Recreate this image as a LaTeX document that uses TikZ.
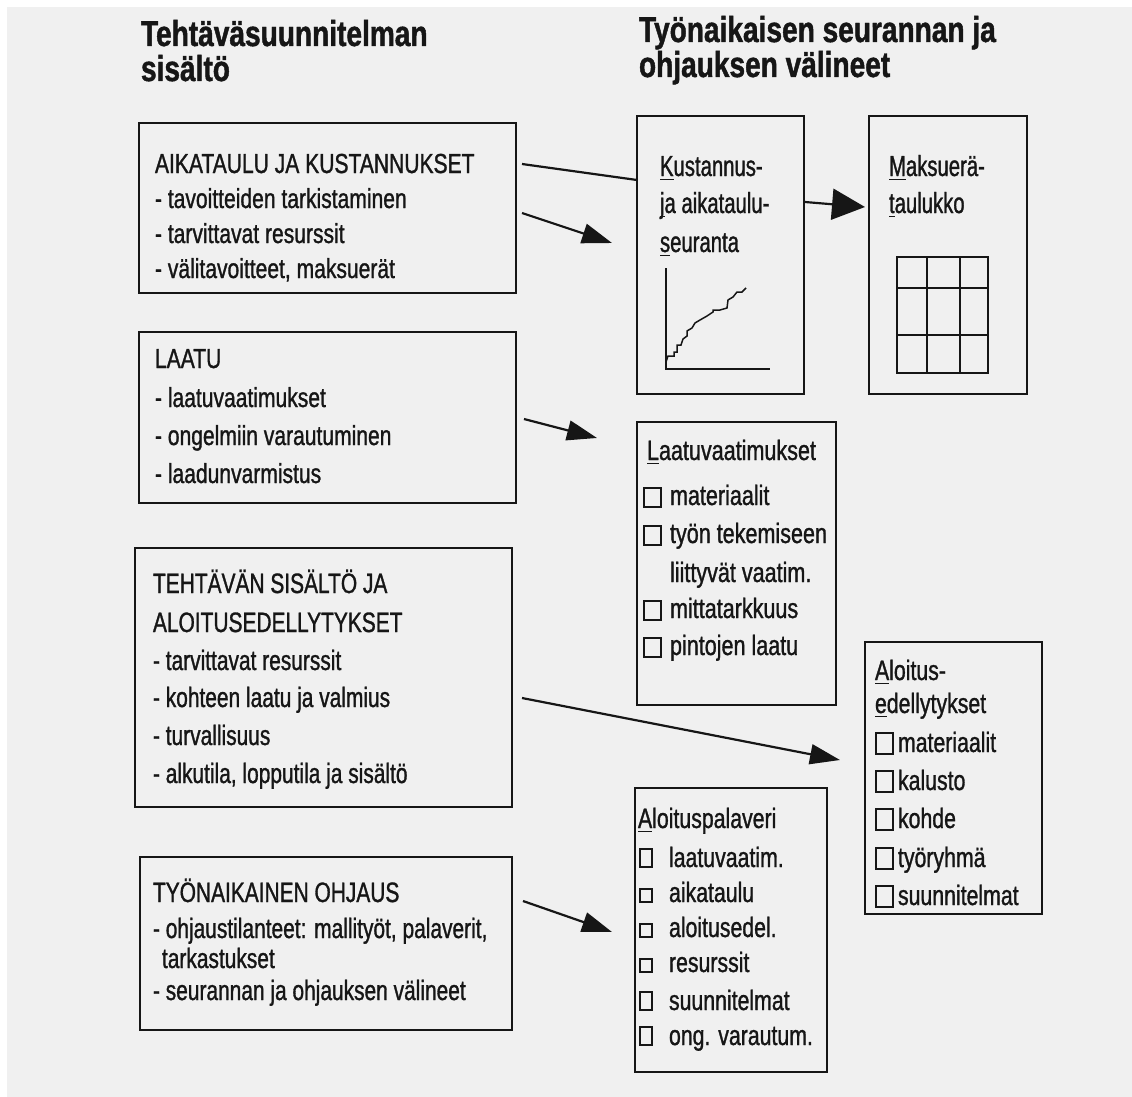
\documentclass[tikz,border=0pt]{standalone}
\usepackage{fontspec}
\setmainfont{Liberation Sans}
\newfontfamily\bxfontA[FakeStretch=0.766,FakeBold=1.1]{Liberation Sans}
\newfontfamily\bxfontB[FakeStretch=0.747,FakeBold=1.1]{Liberation Sans}
\newfontfamily\bxfontC[FakeStretch=0.77,FakeBold=1.1]{Liberation Sans}
\newfontfamily\bxfontD[FakeStretch=0.70,FakeBold=1.1]{Liberation Sans}
\newfontfamily\bxfontE[FakeStretch=0.76,FakeBold=1.1]{Liberation Sans}
\newfontfamily\bxfontH[FakeStretch=0.78,FakeBold=1.2]{Liberation Sans Bold}
\usetikzlibrary{arrows.meta}
\definecolor{ink}{RGB}{22,22,22}
\definecolor{paper}{RGB}{240,240,240}
\newcommand\firstul[1]{\setbox0\hbox{#1}\rlap{\rule[-4pt]{\wd0}{1.3pt}}#1}
\tikzset{
  box/.style={draw=ink, line width=1.8pt, inner sep=0pt, outer sep=0pt},
  base/.style={anchor=base west, inner sep=0pt, outer sep=0pt, text=ink},
  tA/.style={base, font=\bxfontA\fontsize{27.5}{30}\selectfont},
  tB/.style={base, font=\bxfontB\fontsize{28}{30}\selectfont},
  tC/.style={base, font=\bxfontC\fontsize{28}{32}\selectfont},
  tD/.style={base, font=\bxfontD\fontsize{29}{32}\selectfont},
  tE/.style={base, font=\bxfontE\fontsize{28}{30}\selectfont},
  hd/.style={base, font=\bxfontH\fontsize{36}{40}\selectfont},
  arr/.style={draw=ink, line width=2.2pt, -{Triangle[length=30pt,width=20pt]}},
  bigarr/.style={draw=ink, line width=2.2pt, -{Triangle[length=33pt,width=31pt]}},
  plain/.style={draw=ink, line width=2.2pt},
  cbs/.style={draw=ink, line width=1.5pt},
  fig/.style={draw=ink, line width=1.5pt}
}
\begin{document}
\begin{tikzpicture}[x=1pt,y=-1pt]
\useasboundingbox (0,0) rectangle (1132,1097);
\fill[white] (0,0) rectangle (1132,1097);
\fill[paper] (7,7) rectangle (1132,1097);

% headings
\node[hd] (h1a) at (141,46) {Tehtäväsuunnitelman};
\node[hd] (h1b) at (141,81) {sisältö};
\node[hd] (h2a) at (639,42) {Työnaikaisen seurannan ja};
\node[hd] (h2b) at (639,77) {ohjauksen välineet};

% left boxes
\node[box, minimum width=377pt, minimum height=170pt] (b1) at (327.5,208) {};
\node[box, minimum width=377pt, minimum height=171pt] (b2) at (327.5,417.5) {};
\node[box, minimum width=377pt, minimum height=259pt] (b3) at (323.5,677.5) {};
\node[box, minimum width=372pt, minimum height=173pt] (b4) at (326,943.5) {};
% right boxes
\node[box, minimum width=167pt, minimum height=278pt] (b5) at (720.5,255) {};
\node[box, minimum width=158pt, minimum height=278pt] (b6) at (948,255) {};
\node[box, minimum width=199pt, minimum height=283pt] (b7) at (736.5,563.5) {};
\node[box, minimum width=177pt, minimum height=272pt] (b8) at (953.5,778) {};
\node[box, minimum width=192pt, minimum height=284pt] (b9) at (731,930) {};

% box 1 text
\node[tA] (t1a) at (155,173) {AIKATAULU JA KUSTANNUKSET};
\node[tA] (t1b) at (155,208) {- tavoitteiden tarkistaminen};
\node[tA] (t1c) at (155,243) {- tarvittavat resurssit};
\node[tA] (t1d) at (155,278) {- välitavoitteet, maksuerät};
% box 2 text
\node[tA] (t2a) at (155,368) {LAATU};
\node[tA] (t2b) at (155,407) {- laatuvaatimukset};
\node[tA] (t2c) at (155,445) {- ongelmiin varautuminen};
\node[tA] (t2d) at (155,483) {- laadunvarmistus};
% box 3 text
\node[tB] (t3a) at (153,593) {TEHTÄVÄN SISÄLTÖ JA};
\node[tB] (t3b) at (153,632) {ALOITUSEDELLYTYKSET};
\node[tB] (t3c) at (153,670) {- tarvittavat resurssit};
\node[tB] (t3d) at (153,707) {- kohteen laatu ja valmius};
\node[tB] (t3e) at (153,745) {- turvallisuus};
\node[tB] (t3f) at (153,783) {- alkutila, lopputila ja sisältö};
% box 4 text
\node[tB] (t4a) at (153,902) {TYÖNAIKAINEN OHJAUS};
\node[tB] (t4b) at (153,938) {- ohjaustilanteet: mallityöt, palaverit,};
\node[tB] (t4c) at (162,968) {tarkastukset};
\node[tB] (t4d) at (153,1000) {- seurannan ja ohjauksen välineet};

% box 5
\node[tD] (t5a) at (660,176) {\firstul{K}ustannus-};
\node[tD] (t5b) at (660,213) {\firstul{j}a aikataulu-};
\node[tD] (t5c) at (660,252) {\firstul{s}euranta};
\draw[fig] (666,268) -- (666,369) -- (770,369);
\draw[fig] (666,362) -- (668,356) -- (674,356) -- (674,352) -- (677,352) -- (677,345)
  -- (681,345) -- (683,339) -- (687,336) -- (687,331) -- (692,328) -- (695,323)
  -- (700,320) -- (707,316) -- (713,312) -- (713,310) -- (720,310) -- (727,308)
  -- (728,300) -- (733,297) -- (737,292) -- (742,292) -- (746,288);

% box 6
\node[tD] (t6a) at (889,176) {\firstul{M}aksuerä-};
\node[tD] (t6b) at (889,213) {\firstul{t}aulukko};
\draw[fig] (897,257) rectangle (988,373);
\draw[fig] (927,257) -- (927,373);
\draw[fig] (960,257) -- (960,373);
\draw[fig] (897,288) -- (988,288);
\draw[fig] (897,335) -- (988,335);

% box 7
\node[tC] (t7a) at (647,460) {\firstul{L}aatuvaatimukset};
\node[tC] (t7b) at (670,505) {materiaalit};
\node[tC] (t7c) at (670,543) {työn tekemiseen};
\node[tC] (t7d) at (670,582) {liittyvät vaatim.};
\node[tC] (t7e) at (670,618) {mittatarkkuus};
\node[tC] (t7f) at (670,655) {pintojen laatu};
\foreach \yb in {505,543,618,655} {\draw[cbs] (644,\yb-17) rectangle (661,\yb+2);}

% box 8
\node[tE] (t8a) at (875,680) {\firstul{A}loitus-};
\node[tE] (t8b) at (875,713) {\firstul{e}dellytykset};
\node[tE] (t8c) at (898,752) {materiaalit};
\node[tE] (t8d) at (898,790) {kalusto};
\node[tE] (t8e) at (898,828) {kohde};
\node[tE] (t8f) at (898,867) {työryhmä};
\node[tE] (t8g) at (898,905) {suunnitelmat};
\foreach \yb in {752,790,828,867,905} {\draw[cbs] (876,\yb-19) rectangle (893,\yb+2);}

% box 9
\node[tE] (t9a) at (638,828) {\firstul{A}loituspalaveri};
\node[tE] (t9b) at (669,867) {laatuvaatim.};
\node[tE] (t9c) at (669,902) {aikataulu};
\node[tE] (t9d) at (669,937) {aloitusedel.};
\node[tE] (t9e) at (669,972) {resurssit};
\node[tE] (t9f) at (669,1010) {suunnitelmat};
\node[tE] (t9g) at (669,1045) {ong. varautum.};
\foreach \yb in {867,1010,1045} {\draw[cbs] (640,\yb-18) rectangle (652,\yb);}
\foreach \yb in {902,937,972} {\draw[cbs] (640,\yb-13) rectangle (652,\yb);}

% connectors
\coordinate (a1s) at (522,164); \coordinate (a1e) at (637,180);
\coordinate (a2s) at (522,213); \coordinate (a2e) at (612,243);
\coordinate (a3s) at (805,202); \coordinate (a3e) at (865,207);
\coordinate (a4s) at (524,419); \coordinate (a4e) at (597,438);
\coordinate (a5s) at (522,698); \coordinate (a5e) at (840,760);
\coordinate (a6s) at (523,901); \coordinate (a6e) at (612,932);
\draw[plain] (a1s) -- (a1e);
\draw[arr] (a2s) -- (a2e);
\draw[bigarr] (a3s) -- (a3e);
\draw[arr] (a4s) -- (a4e);
\draw[arr] (a5s) -- (a5e);
\draw[arr] (a6s) -- (a6e);
\end{tikzpicture}
\end{document}
